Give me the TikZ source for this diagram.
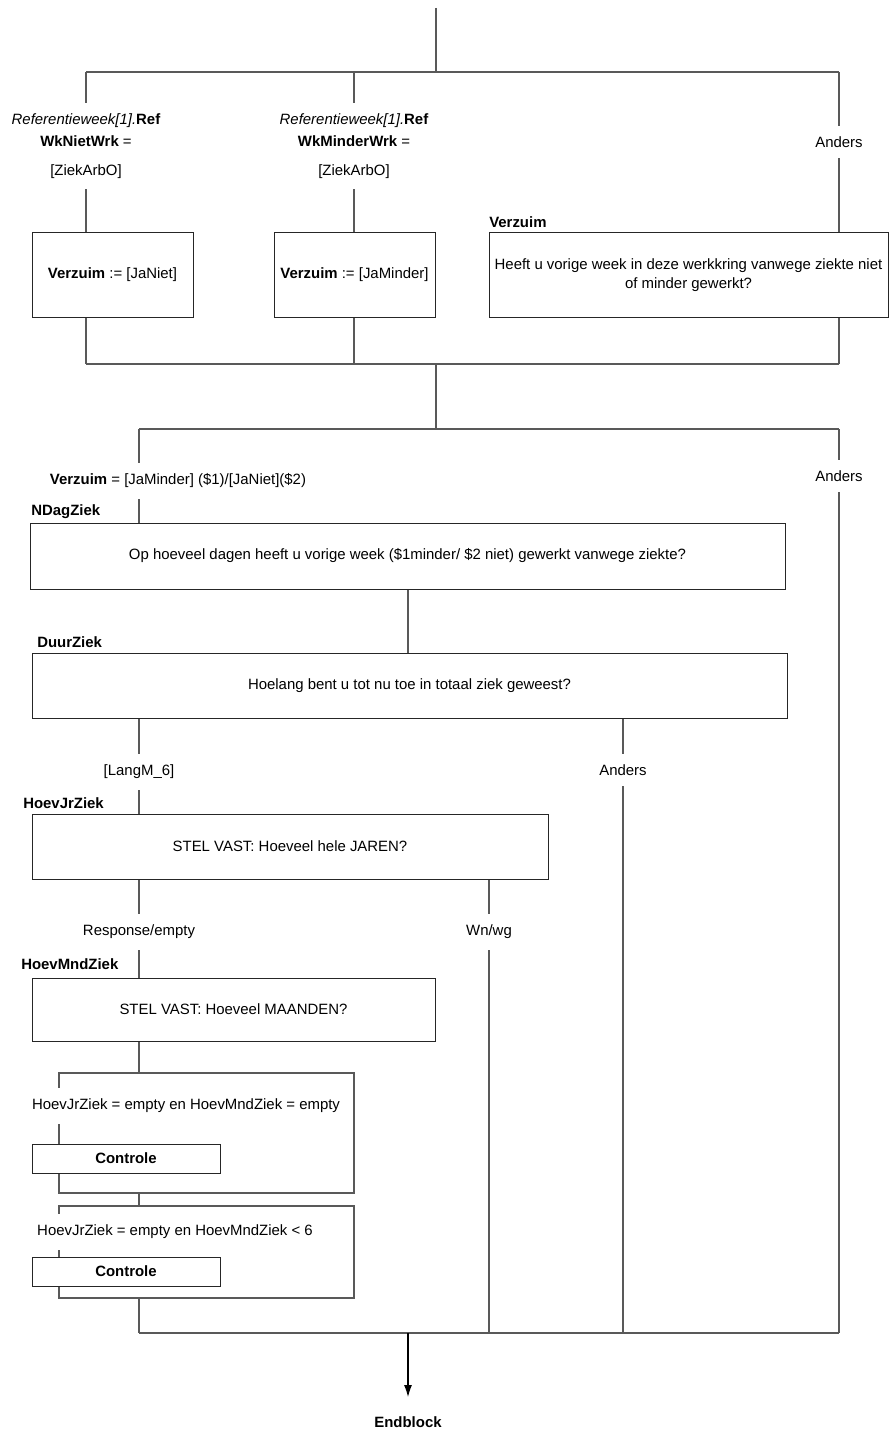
\documentclass[tikz,border=0pt]{standalone}
\usepackage{fontspec}
\setmainfont{Liberation Sans}
\usetikzlibrary{arrows.meta,backgrounds}
\begin{document}
\begin{tikzpicture}[x=0.75pt,y=-0.75pt,
  every node/.style={font=\fontsize{11.2}{13.8}\selectfont},
  conn/.style={draw=black!65,line width=0.8pt},
  box/.style={draw=black!85,fill=white,line width=0.75pt,inner sep=0pt,align=center},
  lbl/.style={fill=white,inner xsep=1pt,inner ysep=8pt,align=center},
  qname/.style={anchor=west,inner sep=0pt,font=\fontsize{11.2}{13}\selectfont\bfseries},
  ctlbox/.style={box,font=\fontsize{11.2}{13}\selectfont\bfseries,minimum width=141pt,minimum height=21.75pt},
  condtxt/.style={lbl,font=\fontsize{11.2}{16.5}\selectfont}]
\path[use as bounding box] (0,0) rectangle (890,1430);

% ---- first decision block ----
\node[condtxt] (cA) at (86,146) {\textit{Referentieweek[1].}\textbf{Ref}\\\textbf{WkNietWrk} =\\[5pt][ZiekArbO]};
\node[condtxt] (cB) at (354,146) {\textit{Referentieweek[1].}\textbf{Ref}\\\textbf{WkMinderWrk} =\\[5pt][ZiekArbO]};
\node[lbl] (aTop) at (839,142) {Anders};
\node[box,minimum width=120.75pt,minimum height=63pt] (bA) at (112.5,275) {\textbf{Verzuim} := [JaNiet]};
\node[box,minimum width=120.75pt,minimum height=63pt] (bB) at (354.5,275) {\textbf{Verzuim} := [JaMinder]};
\node[qname] (nC) at (489,222) {Verzuim};
\node[box,minimum width=299.25pt,minimum height=63pt] (bC) at (688.5,275) {Heeft u vorige week in deze werkkring vanwege ziekte niet\\of minder gewerkt?};

% ---- second decision block ----
\node[lbl] (cD) at (178,481) {\textbf{Verzuim} = [JaMinder] (\$1)/[JaNiet](\$2)};
\node[lbl] (aMid) at (839,476) {Anders};
\node[qname] (nD) at (31,512) {NDagZiek};
\node[box,minimum width=566.25pt,minimum height=49.5pt] (bD) at (407.5,556) {Op hoeveel dagen heeft u vorige week (\$1minder/ \$2 niet) gewerkt vanwege ziekte?};
\node[qname] (nE) at (37,642) {DuurZiek};
\node[box,minimum width=566.25pt,minimum height=48.75pt] (bE) at (409.5,685.5) {Hoelang bent u tot nu toe in totaal ziek geweest?};
\node[lbl] (cF) at (139,772) {[LangM\_6]};
\node[lbl] (aE) at (623,770) {Anders};
\node[qname] (nF) at (23,803) {HoevJrZiek};
\node[box,minimum width=387pt,minimum height=48.75pt] (bF) at (290,846.5) {STEL VAST: Hoeveel hele JAREN?};
\node[lbl] (cG) at (139,932) {Response/empty};
\node[lbl] (cW) at (489,932) {Wn/wg};
\node[qname] (nG) at (21,964) {HoevMndZiek};
\node[box,minimum width=302.25pt,minimum height=47.25pt] (bG) at (233.5,1009.5) {STEL VAST: Hoeveel MAANDEN?};
\node[lbl] (if1) at (186,1106) {HoevJrZiek = empty en HoevMndZiek = empty};
\node[ctlbox] (ctl1) at (126,1158.5) {Controle};
\node[lbl] (if2) at (175,1232) {HoevJrZiek = empty en HoevMndZiek < 6};
\node[ctlbox] (ctl2) at (126,1271.5) {Controle};
\node[font=\fontsize{11.2}{13}\selectfont\bfseries] (end) at (408,1422) {Endblock};

% ---- coordinates ----
\coordinate (t0) at (436,8);
\coordinate (j1) at (436,72);
\coordinate (h1l) at (86,72);
\coordinate (h1m) at (354,72);
\coordinate (h1r) at (839,72);
\coordinate (h2l) at (86,364);
\coordinate (h2m) at (354,364);
\coordinate (h2c) at (436,364);
\coordinate (h2r) at (839,364);
\coordinate (j3) at (436,429);
\coordinate (h3l) at (139,429);
\coordinate (h3r) at (839,429);
\coordinate (dE) at (408,589);
\coordinate (eL) at (139,718);
\coordinate (eR) at (623,718);
\coordinate (fL) at (139,879);
\coordinate (fR) at (489,879);
\coordinate (gL) at (139,1041);
\coordinate (f1tl) at (59,1073);
\coordinate (f1t) at (139,1073);
\coordinate (f1tr) at (354,1073);
\coordinate (f1br) at (354,1193);
\coordinate (f1b) at (139,1193);
\coordinate (f1bl) at (59,1193);
\coordinate (f2tl) at (59,1206);
\coordinate (f2t) at (139,1206);
\coordinate (f2tr) at (354,1206);
\coordinate (f2br) at (354,1298);
\coordinate (f2b) at (139,1298);
\coordinate (f2bl) at (59,1298);
\coordinate (h4l) at (139,1333);
\coordinate (h4m) at (408,1333);
\coordinate (h4w) at (489,1333);
\coordinate (h4a) at (623,1333);
\coordinate (h4r) at (839,1333);
\coordinate (arr) at (408,1397);

\begin{scope}[on background layer]
\draw[conn] (t0) -- (j1);
\draw[conn] (h1l) -- (h1r);
\draw[conn] (h1l) -- (h1l |- bA.north);
\draw[conn] (h1m) -- (h1m |- bB.north);
\draw[conn] (h1r) -- (h1r |- bC.north);
\draw[conn] (h2l |- bA.south) -- (h2l);
\draw[conn] (h2m |- bB.south) -- (h2m);
\draw[conn] (h2r |- bC.south) -- (h2r);
\draw[conn] (h2l) -- (h2r);
\draw[conn] (h2c) -- (j3);
\draw[conn] (h3l) -- (h3r);
\draw[conn] (h3l) -- (h3l |- bD.north);
\draw[conn] (h3r) -- (h4r);
\draw[conn] (dE) -- (dE |- bE.north);
\draw[conn] (eL) -- (eL |- bF.north);
\draw[conn] (eR) -- (h4a);
\draw[conn] (fL) -- (fL |- bG.north);
\draw[conn] (fR) -- (h4w);
\draw[conn] (gL) -- (f1t);
\draw[conn] (f1bl) -- (f1tl) -- (f1tr) -- (f1br) -- cycle;
\draw[conn] (f1b) -- (f2t);
\draw[conn] (f2bl) -- (f2tl) -- (f2tr) -- (f2br) -- cycle;
\draw[conn] (f2b) -- (h4l);
\draw[conn] (h4l) -- (h4r);
\end{scope}
\draw[line width=0.8pt,-{Latex[length=9pt,width=6pt]}] (h4m) -- (arr);
\end{tikzpicture}
\end{document}
